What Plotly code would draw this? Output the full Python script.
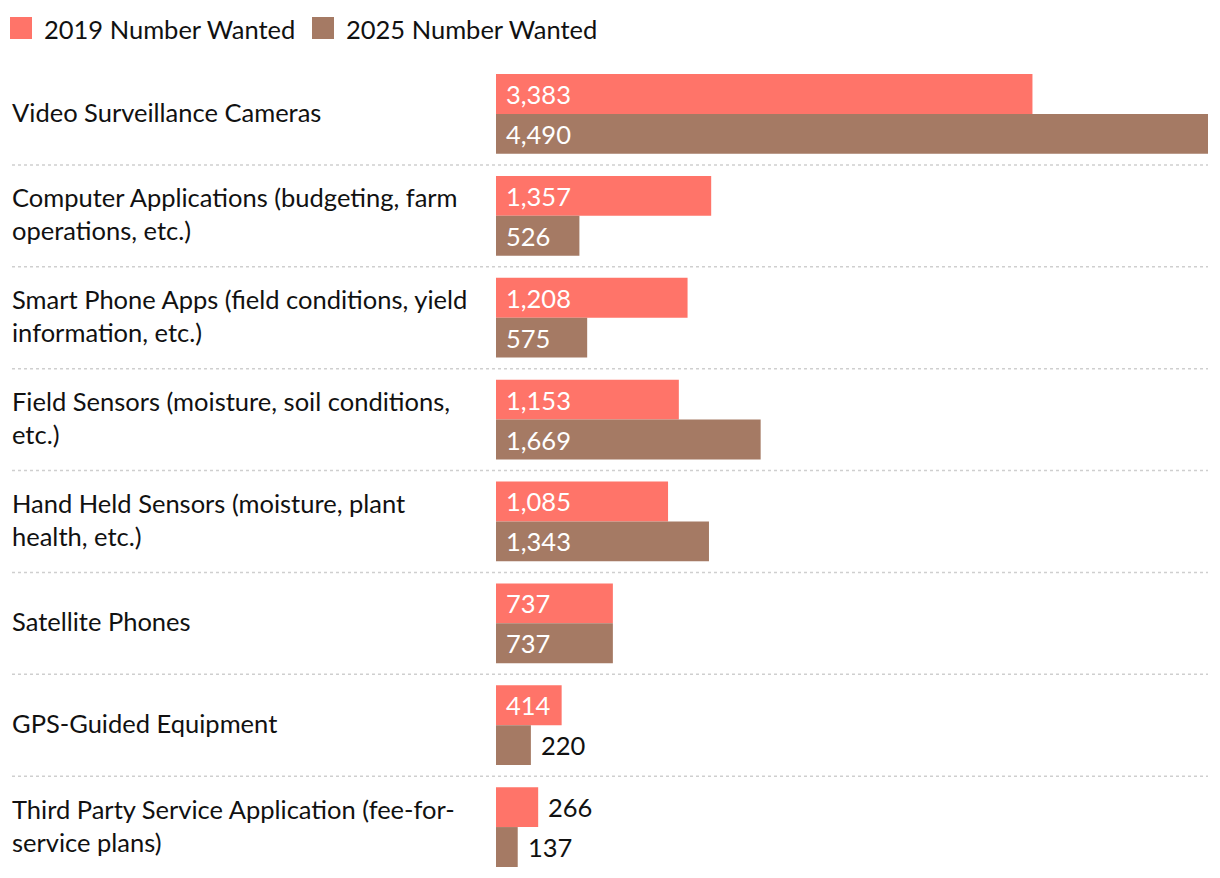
import plotly.graph_objects as go

categories = [
    "Video Surveillance Cameras",
    "Computer Applications (budgeting, farm<br>operations, etc.)",
    "Smart Phone Apps (field conditions, yield<br>information, etc.)",
    "Field Sensors (moisture, soil conditions,<br>etc.)",
    "Hand Held Sensors (moisture, plant<br>health, etc.)",
    "Satellite Phones",
    "GPS-Guided Equipment",
    "Third Party Service Application (fee-for-<br>service plans)",
]
series_names = ["2019 Number Wanted", "2025 Number Wanted"]
values_2019 = [3383, 1357, 1208, 1153, 1085, 737, 414, 266]
values_2025 = [4490, 526, 575, 1669, 1343, 737, 220, 137]

colors = ["#FF7469", "#A57A64"]
FONT = "Lato"
FS = 25.5
OFF = 8  # page body margin
W, H = 1220 - OFF, 878 - OFF
ML, MR, MT, MB = 496 - OFF, 12, 63 - OFF, 0
xmax = max(values_2019 + values_2025)
plot_w = W - ML - MR

fig = go.Figure()
ys = list(range(len(categories)))
for name, vals, col in zip(series_names, [values_2019, values_2025], colors):
    fig.add_trace(go.Bar(
        y=ys, x=vals, orientation="h", name=name,
        marker=dict(color=col, line=dict(width=0)),
        showlegend=False, hoverinfo="x+name",
    ))

annotations = []
shapes = []
# category labels
for i, c in enumerate(categories):
    annotations.append(dict(
        x=0, xref="paper", y=i, yref="y", text=c, showarrow=False,
        xanchor="left", yanchor="middle", align="left", xshift=10 - 496, yshift=2,
        font=dict(family=FONT, size=FS, color="#111111"),
    ))

# value labels
thr = xmax * 0.08
for vals, ysh in [(values_2019, 20), (values_2025, -20)]:
    for i, v in enumerate(vals):
        inside = v >= thr
        annotations.append(dict(
            x=0 if inside else v, xref="x", y=i, yref="y",
            text=f"{v:,}", showarrow=False, xanchor="left", yanchor="middle",
            xshift=8, yshift=ysh,
            font=dict(family=FONT, size=FS, color="white" if inside else "#111111"),
        ))

# separators
for i in range(len(categories) - 1):
    shapes.append(dict(
        type="line", xref="paper", x0=(12 - 496) / plot_w, x1=1,
        yref="y", y0=i + 0.5, y1=i + 0.5,
        line=dict(color="#CFCFCF", width=1.5, dash="dot"),
    ))

# manual legend
legend_pos = [(-486, -454), (-184, -152)]
for (sx, tx), name, col in zip(legend_pos, series_names, colors):
    shapes.append(dict(
        type="rect", xref="paper", yref="paper", xsizemode="pixel", ysizemode="pixel",
        xanchor=0, yanchor=1, x0=sx, x1=sx + 22, y0=24, y1=46,
        fillcolor=col, line=dict(width=0),
    ))
    annotations.append(dict(
        x=0, xref="paper", y=1, yref="paper", text=name, showarrow=False,
        xanchor="left", yanchor="middle", xshift=tx, yshift=34,
        font=dict(family=FONT, size=FS, color="#111111"),
    ))

fig.update_layout(
    width=W, height=H,
    margin=dict(l=ML, r=MR, t=MT, b=MB, pad=0),
    barmode="group", bargap=0.216, bargroupgap=0,
    plot_bgcolor="white", paper_bgcolor="white",
    xaxis=dict(range=[0, xmax], visible=False, fixedrange=True),
    yaxis=dict(range=[len(categories) - 0.5, -0.5], visible=False, fixedrange=True),
    annotations=annotations, shapes=shapes,
    font=dict(family=FONT, size=FS),
)
fig.write_html("out.html", config={"displayModeBar": False})
